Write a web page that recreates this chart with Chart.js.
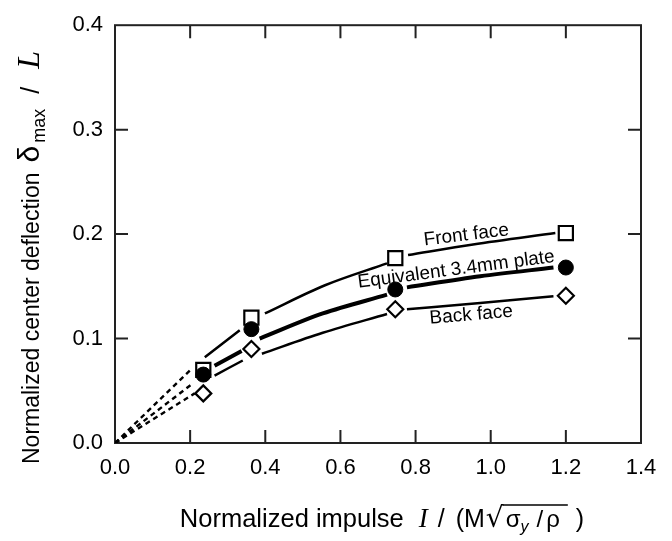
<!DOCTYPE html>
<html>
<head>
<meta charset="utf-8">
<script src="https://cdn.jsdelivr.net/npm/chart.js@4.4.1/dist/chart.umd.min.js"></script>
<style>
  html, body { margin: 0; padding: 0; background: #fff; }
  #chart { display: block; }
</style>
</head>
<body>
<canvas id="chart" width="672" height="541"></canvas>
<script>
// normalized impulse of the four tests
const impulse = [0.235, 0.363, 0.746, 1.2];

// measured center deflection (delta_max / L)
const frontFace = [0.070, 0.120, 0.177, 0.201];
const equivalentPlate = [0.0655, 0.109, 0.147, 0.168];
const backFace = [0.0475, 0.090, 0.128, 0.141];

// fitted curves, null = break around a marker
const frontFit = [[0.239, 0.082], [0.332, 0.108], null,
  [0.399, 0.124], [0.559, 0.151], [0.724, 0.172], null,
  [0.78, 0.180], [0.953, 0.190], [1.172, 0.201]];
const plateFit = [[0.265, 0.074], [0.337, 0.088], null,
  [0.385, 0.100], [0.553, 0.124], [0.724, 0.142], null,
  [0.777, 0.149], [0.972, 0.1596], [1.167, 0.168]];
const backFit = [[0.265, 0.0646], [0.34, 0.079], null,
  [0.391, 0.0855], [0.553, 0.1055], [0.724, 0.1235], null,
  [0.777, 0.128], [0.972, 0.134], [1.167, 0.1406]];

// dashed extrapolation back to the origin
const frontDash = [[0, 0], [0.204, 0.071]];
const plateDash = [[0, 0], [0.207, 0.057]];
const backDash = [[0, 0], [0.212, 0.0475]];

const xTicks = [0, 0.2, 0.4, 0.6, 0.8, 1.0, 1.2, 1.4];
const yTicks = [0, 0.1, 0.2, 0.3, 0.4];

const sans = "'Liberation Sans', Arial, Helvetica, sans-serif";
const serif = "'Liberation Serif', 'Times New Roman', serif";

// text written along the curves
const curveLabels = [
  { text: "Front face", x: 0.935, y: 0.199, angle: -7 },
  { text: "Equivalent 3.4mm plate", x: 0.908, y: 0.166, angle: -7.5 },
  { text: "Back face", x: 0.948, y: 0.1226, angle: -5 },
];

function toPoints(pairs) {
  let last = 0;
  return pairs.map((p) => {
    if (p === null) return { x: last, y: null };
    last = p[0];
    return { x: p[0], y: p[1] };
  });
}

function markers(values) {
  return impulse.map((x, i) => ({ x: x, y: values[i] }));
}

function fitLine(pairs, width) {
  return {
    data: toPoints(pairs),
    showLine: true,
    borderColor: "#000",
    borderWidth: width,
    pointRadius: 0,
    cubicInterpolationMode: "monotone",
    spanGaps: false,
    order: 3,
  };
}

function dashLine(pairs) {
  return {
    data: toPoints(pairs),
    showLine: true,
    borderColor: "#000",
    borderWidth: 2.4,
    borderDash: [5, 4],
    pointRadius: 0,
    order: 3,
  };
}

// box with inward tick marks on all four sides
const framePlugin = {
  id: "frame",
  beforeDatasetsDraw(chart) {
    const { ctx, chartArea: a, scales } = chart;
    ctx.save();
    ctx.strokeStyle = "#222";
    ctx.lineWidth = 2;
    ctx.strokeRect(a.left, a.top, a.right - a.left, a.bottom - a.top);
    ctx.beginPath();
    xTicks.slice(1, -1).forEach((v) => {
      const px = scales.x.getPixelForValue(v);
      ctx.moveTo(px, a.bottom);
      ctx.lineTo(px, a.bottom - 13);
      ctx.moveTo(px, a.top);
      ctx.lineTo(px, a.top + 13);
    });
    yTicks.slice(1, -1).forEach((v) => {
      const py = scales.y.getPixelForValue(v);
      ctx.moveTo(a.left, py);
      ctx.lineTo(a.left + 13, py);
      ctx.moveTo(a.right, py);
      ctx.lineTo(a.right - 13, py);
    });
    ctx.stroke();
    ctx.restore();
  },
};

const curveLabelPlugin = {
  id: "curveLabels",
  afterDatasetsDraw(chart) {
    const { ctx, scales } = chart;
    ctx.save();
    ctx.fillStyle = "#000";
    ctx.font = "19px " + sans;
    ctx.textAlign = "center";
    ctx.textBaseline = "middle";
    curveLabels.forEach((l) => {
      ctx.save();
      ctx.translate(scales.x.getPixelForValue(l.x), scales.y.getPixelForValue(l.y));
      ctx.rotate((l.angle * Math.PI) / 180);
      ctx.fillText(l.text, 0, 0);
      ctx.restore();
    });
    ctx.restore();
  },
};

// a piece is either text or a plain gap in pixels
function pieceWidth(ctx, p) {
  if (p.gap) return p.gap;
  ctx.font = p.font;
  return ctx.measureText(p.text).width;
}

// axis titles with subscripts and the square root
const titlePlugin = {
  id: "titles",
  afterDraw(chart) {
    const { ctx, chartArea: a } = chart;
    ctx.save();
    ctx.fillStyle = "#000";
    ctx.textAlign = "left";
    ctx.textBaseline = "alphabetic";

    const xPieces = [
      { text: "Normalized impulse", font: "25.5px " + sans },
      { gap: 15 },
      { text: "I", font: "italic 27px " + serif },
      { gap: 10 },
      { text: "/", font: "25px " + sans },
      { gap: 11 },
      { text: "(", font: "25px " + sans },
      { text: "M", font: "25px " + sans },
      { gap: 1 },
      { text: "\u221A", font: "28px 'DejaVu Sans', sans-serif", radical: true },
      { gap: 2, over: true },
      { text: "\u03C3", font: "24px " + sans, over: true },
      { text: "y", font: "italic 16px " + sans, dy: 5, over: true },
      { gap: 8, over: true },
      { text: "/", font: "24px " + sans, over: true },
      { gap: 3, over: true },
      { text: "\u03C1", font: "24px " + sans, over: true },
      { gap: 8, over: true },
      { gap: 8 },
      { text: ")", font: "25px " + sans },
    ];
    const baseX = 527;
    const total = xPieces.reduce((s, p) => s + pieceWidth(ctx, p), 0);
    let x = (a.left + a.right) / 2 + 4 - total / 2;
    let overStart = null, overEnd = null, overY = null;
    xPieces.forEach((p) => {
      const w = pieceWidth(ctx, p);
      if (!p.gap) {
        ctx.font = p.font;
        ctx.fillText(p.text, x, baseX + (p.dy || 0));
      }
      if (p.radical) {
        overStart = x + w - 1;
        overY = baseX - ctx.measureText(p.text).actualBoundingBoxAscent + 1;
      }
      x += w;
      if (p.over) overEnd = x;
    });
    ctx.strokeStyle = "#000";
    ctx.lineWidth = 1.6;
    ctx.beginPath();
    ctx.moveTo(overStart, overY);
    ctx.lineTo(overEnd, overY);
    ctx.stroke();

    const yPieces = [
      { text: "Normalized center deflection", font: "23px " + sans },
      { gap: 10 },
      { text: "\u03B4", font: "30px " + sans },
      { gap: 3 },
      { text: "max", font: "18px " + sans, dy: 6 },
      { gap: 15 },
      { text: "/", font: "25px " + sans },
      { gap: 18 },
      { text: "L", font: "italic 32px " + serif },
    ];
    ctx.translate(39, 464);
    ctx.rotate(-Math.PI / 2);
    let t = 0;
    yPieces.forEach((p) => {
      const w = pieceWidth(ctx, p);
      if (!p.gap) {
        ctx.font = p.font;
        ctx.fillText(p.text, t, p.dy || 0);
      }
      t += w;
    });
    ctx.restore();
  },
};

const tickFont = { family: sans, size: 22 };

new Chart(document.getElementById("chart"), {
  type: "scatter",
  data: {
    datasets: [
      {
        label: "Equivalent 3.4mm plate",
        data: markers(equivalentPlate),
        pointStyle: "circle",
        pointRadius: 7.5,
        backgroundColor: "#000",
        borderColor: "#000",
        borderWidth: 1,
        order: 1,
      },
      {
        label: "Front face",
        data: markers(frontFace),
        pointStyle: "rect",
        pointRadius: 10,
        backgroundColor: "#fff",
        borderColor: "#000",
        borderWidth: 2.2,
        order: 2,
      },
      {
        label: "Back face",
        data: markers(backFace),
        pointStyle: "rectRot",
        pointRadius: 8,
        backgroundColor: "#fff",
        borderColor: "#000",
        borderWidth: 2.2,
        order: 2,
      },
      fitLine(frontFit, 2.5),
      fitLine(plateFit, 4),
      fitLine(backFit, 2.5),
      dashLine(frontDash),
      dashLine(plateDash),
      dashLine(backDash),
    ],
  },
  options: {
    responsive: false,
    animation: false,
    devicePixelRatio: 1,
    layout: { padding: { top: 21, right: 31, left: 0, bottom: 0 } },
    plugins: {
      legend: { display: false },
      tooltip: { enabled: false },
    },
    scales: {
      x: {
        type: "linear",
        min: 0,
        max: 1.4,
        grid: { display: false, drawTicks: false },
        border: { display: false },
        afterBuildTicks: (s) => {
          s.ticks = xTicks.map((v) => ({ value: v }));
        },
        afterFit: (s) => {
          s.height = 98;
        },
        ticks: {
          font: tickFont,
          color: "#000",
          padding: 12,
          maxRotation: 0,
          callback: (v) => Number(v).toFixed(1),
        },
      },
      y: {
        type: "linear",
        min: 0,
        max: 0.4,
        grid: { display: false, drawTicks: false },
        border: { display: false },
        afterBuildTicks: (s) => {
          s.ticks = yTicks.map((v) => ({ value: v }));
        },
        afterFit: (s) => {
          s.width = 115;
        },
        ticks: {
          font: tickFont,
          color: "#000",
          padding: 12,
          callback: (v) => Number(v).toFixed(1),
        },
      },
    },
  },
  plugins: [framePlugin, curveLabelPlugin, titlePlugin],
});
</script>
</body>
</html>
